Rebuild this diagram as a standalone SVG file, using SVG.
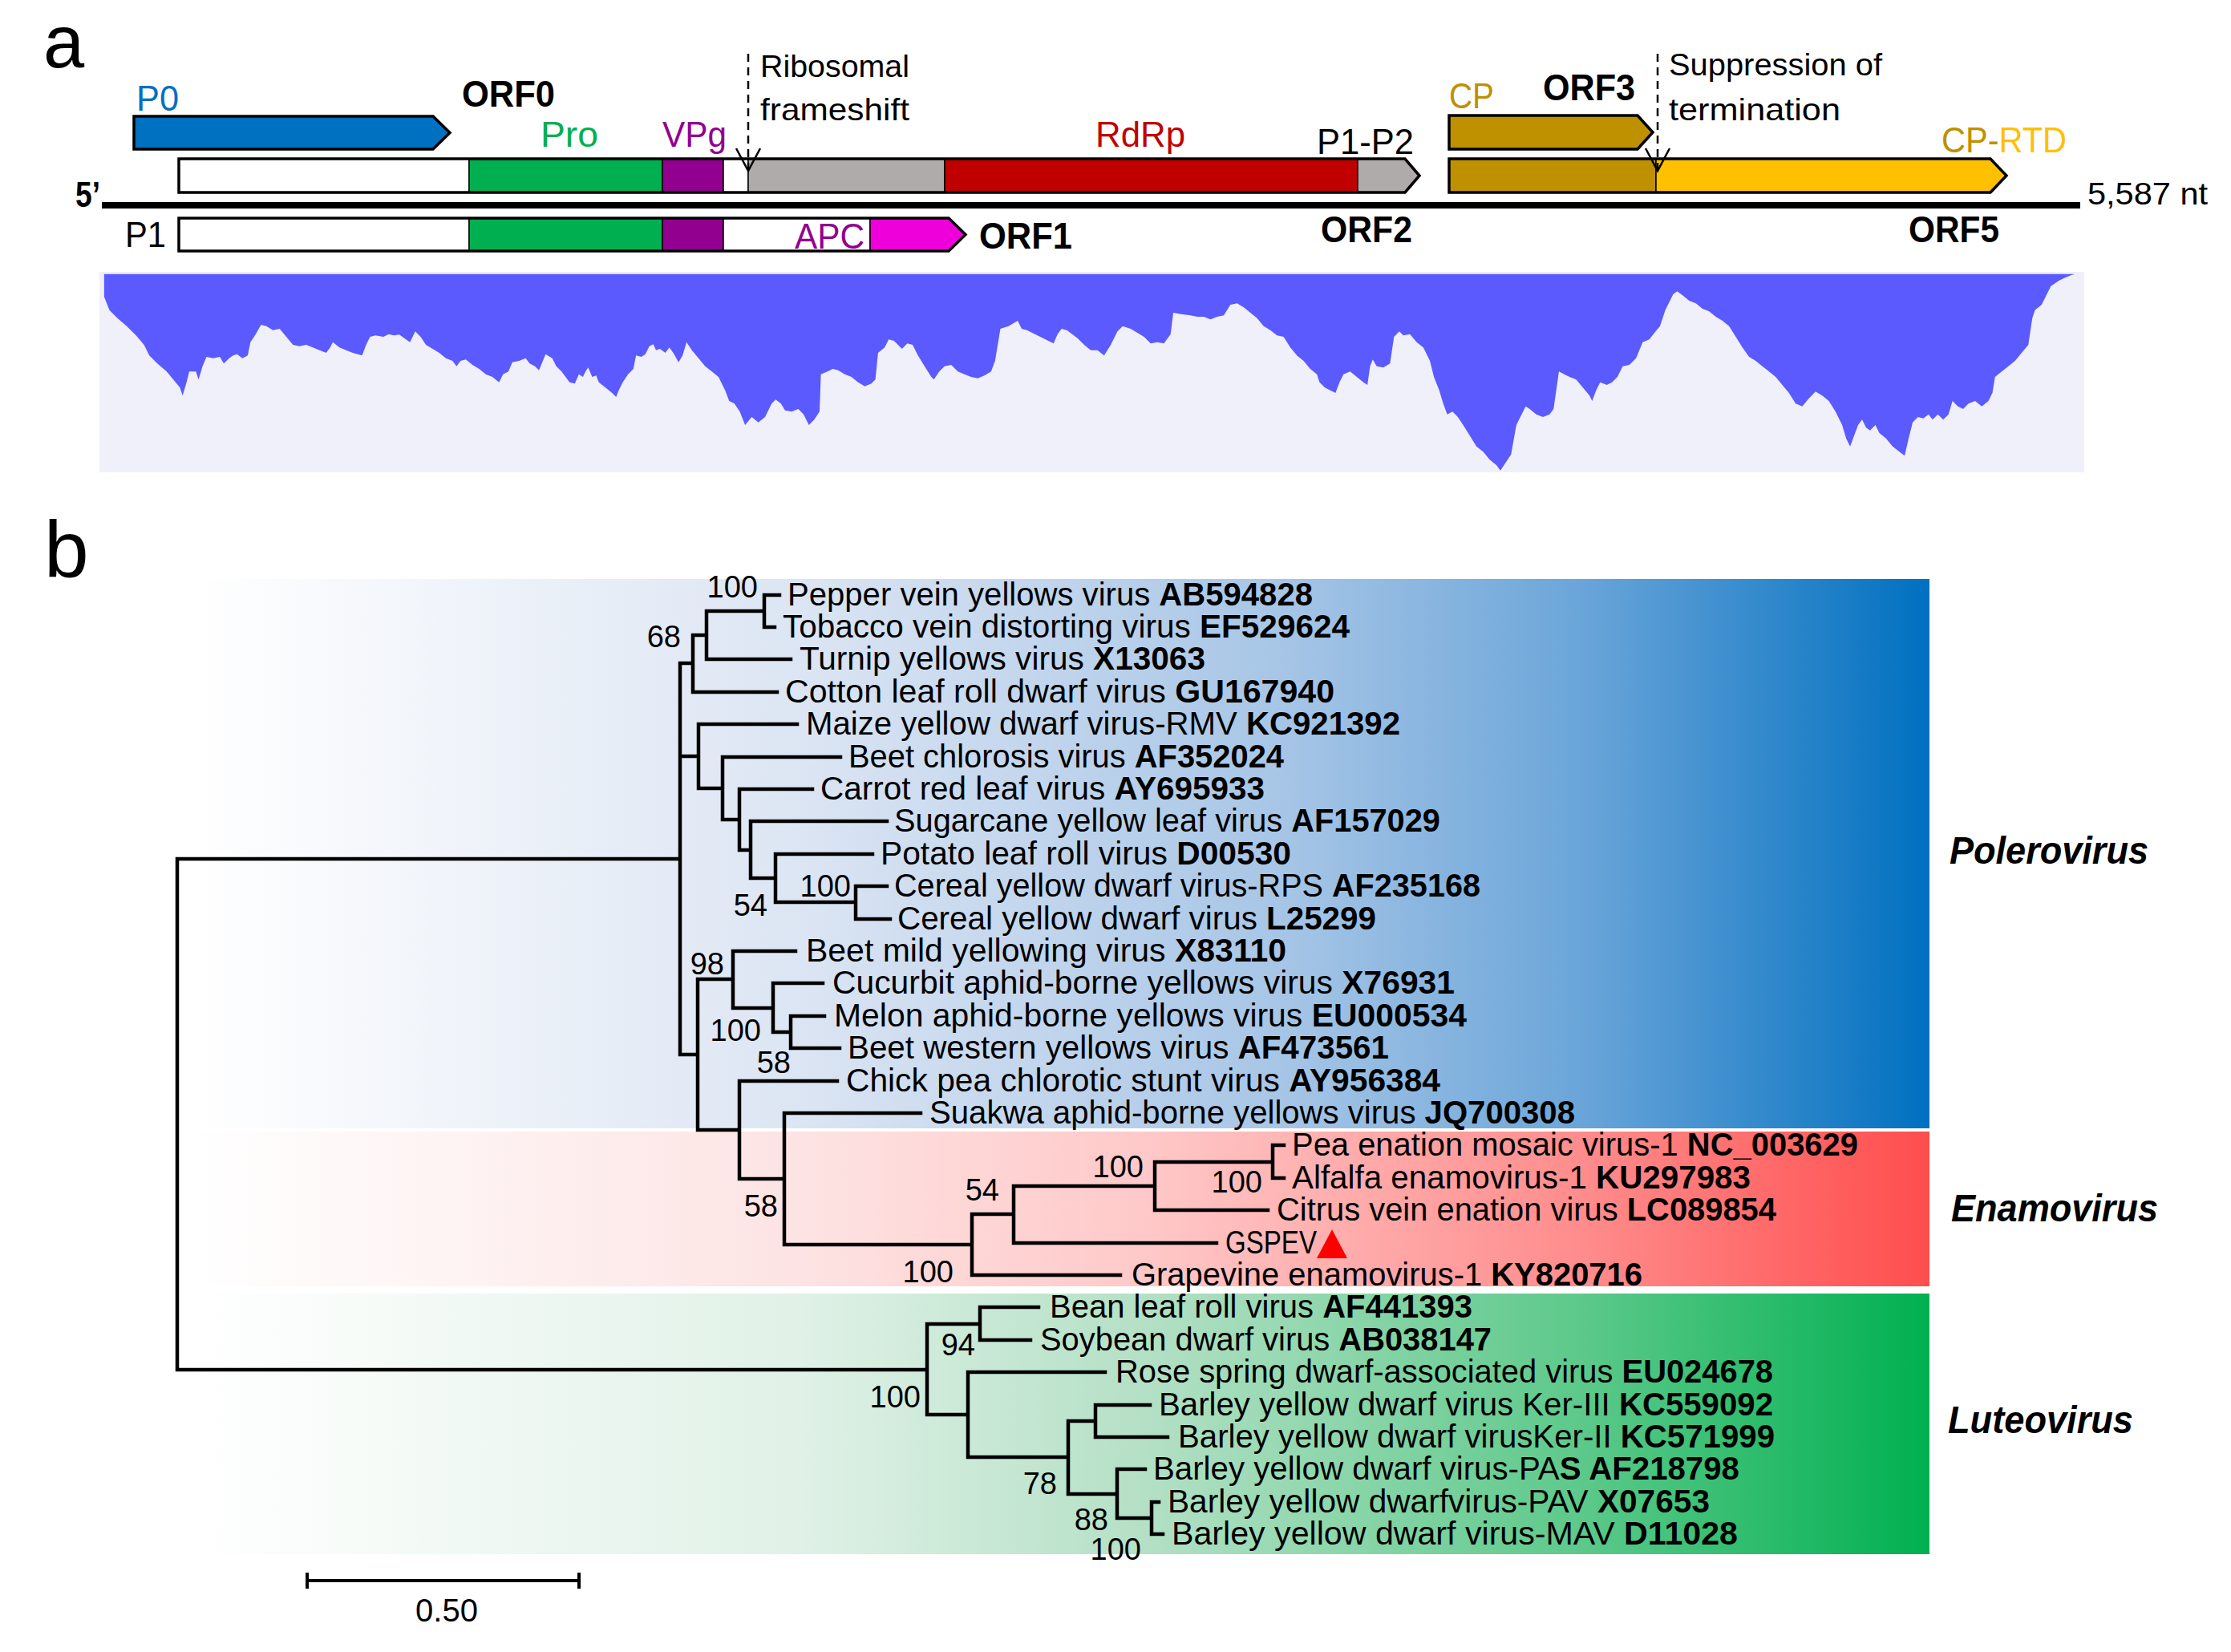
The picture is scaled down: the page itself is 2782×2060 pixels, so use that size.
<svg xmlns="http://www.w3.org/2000/svg" width="2782" height="2060" viewBox="0 0 2782 2060">
<defs>
<style>
text{font-family:"Liberation Sans",Arial,sans-serif;fill:#000}
.lf{font-size:40px}
.bs{font-size:38px;text-anchor:end}
.b{font-weight:bold}
.al{font-size:44px}
.orf{font-size:46px;font-weight:bold}
.nt{font-size:39px}
.cl{font-size:48px;font-weight:bold;font-style:italic}
.br{fill:none;stroke:#000;stroke-width:4.5;stroke-linecap:square}
.seg{stroke:#000;stroke-width:1.5}
.out{fill:none;stroke:#000;stroke-width:3.5;stroke-linejoin:miter}
.dash{fill:none;stroke:#000;stroke-width:2.5;stroke-dasharray:10 7}
.chev{fill:none;stroke:#000;stroke-width:2.5}
</style>
<linearGradient id="gBlue" x1="0" y1="0" x2="1" y2="0">
<stop offset="0" stop-color="#FFFFFF"/>
<stop offset="0.35" stop-color="#DCE5F3"/>
<stop offset="0.63" stop-color="#A6C5E6"/>
<stop offset="0.8" stop-color="#6AA5D9"/>
<stop offset="1" stop-color="#0070C0"/>
</linearGradient>
<linearGradient id="gRed" x1="0" y1="0" x2="1" y2="0">
<stop offset="0" stop-color="#FFFFFF"/>
<stop offset="0.35" stop-color="#FDE3E3"/>
<stop offset="0.55" stop-color="#FFC8C8"/>
<stop offset="0.8" stop-color="#FF8C8C"/>
<stop offset="1" stop-color="#FF4D4D"/>
</linearGradient>
<linearGradient id="gGreen" x1="0" y1="0" x2="1" y2="0">
<stop offset="0" stop-color="#FFFFFF"/>
<stop offset="0.35" stop-color="#E0F1E7"/>
<stop offset="0.55" stop-color="#B3E0C5"/>
<stop offset="0.8" stop-color="#5CC98A"/>
<stop offset="1" stop-color="#00B050"/>
</linearGradient>
</defs>
<rect width="2782" height="2060" fill="#FFFFFF"/>

<g id="panel-a">
<text x="54" y="84" style="font-size:92px">a</text>

<g id="P0">
<polygon points="167,145 540,145 561,165.5 540,186 167,186" class="out" style="fill:#0070C0"/>
<text x="170" y="138" class="al" style="fill:#0070C0" textLength="53" lengthAdjust="spacingAndGlyphs">P0</text>
<text x="576" y="133" class="orf" textLength="116" lengthAdjust="spacingAndGlyphs">ORF0</text>
</g>

<g id="ORF1-2">
<rect x="223" y="198" width="362" height="42" fill="#FFFFFF" class="seg"/>
<rect x="585" y="198" width="241" height="42" fill="#00B050" class="seg"/>
<rect x="826" y="198" width="76" height="42" fill="#92008F" class="seg"/>
<rect x="902" y="198" width="31" height="42" fill="#FFFFFF" class="seg"/>
<rect x="933" y="198" width="245" height="42" fill="#AFABAB" class="seg"/>
<rect x="1178" y="198" width="515" height="42" fill="#C00000" class="seg"/>
<polygon points="1693,198 1752,198 1770,219 1752,240 1693,240" fill="#AFABAB" class="seg"/>
<polygon points="223,198 1752,198 1770,219 1752,240 223,240" class="out"/>
<text x="674" y="183" class="al" style="fill:#00B050" textLength="72" lengthAdjust="spacingAndGlyphs">Pro</text>
<text x="826" y="183" class="al" style="fill:#92008F" textLength="80" lengthAdjust="spacingAndGlyphs">VPg</text>
<text x="1366" y="183" class="al" style="fill:#C00000" textLength="112" lengthAdjust="spacingAndGlyphs">RdRp</text>
<text x="1642" y="192" class="al" textLength="121" lengthAdjust="spacingAndGlyphs">P1-P2</text>
<text x="1647" y="302" class="orf" textLength="114" lengthAdjust="spacingAndGlyphs">ORF2</text>
</g>

<g id="ORF1">
<rect x="223" y="272" width="362" height="41" fill="#FFFFFF" class="seg"/>
<rect x="585" y="272" width="241" height="41" fill="#00B050" class="seg"/>
<rect x="826" y="272" width="76" height="41" fill="#92008F" class="seg"/>
<rect x="902" y="272" width="183" height="41" fill="#FFFFFF" class="seg"/>
<polygon points="1085,272 1183,272 1204,292.5 1183,313 1085,313" fill="#EE00DA" class="seg"/>
<polygon points="223,272 1183,272 1204,292.5 1183,313 223,313" class="out"/>
<text x="156" y="308" class="al" textLength="51" lengthAdjust="spacingAndGlyphs">P1</text>
<text x="991" y="310" class="al" style="fill:#92008F" textLength="87" lengthAdjust="spacingAndGlyphs">APC</text>
<text x="1221" y="310" class="orf" textLength="116" lengthAdjust="spacingAndGlyphs">ORF1</text>
</g>

<g id="ORF3">
<polygon points="1807,144 2042,144 2061,165 2042,186 1807,186" class="out" style="fill:#BF9000"/>
<text x="1807" y="135" class="al" style="fill:#BF9000" textLength="56" lengthAdjust="spacingAndGlyphs">CP</text>
<text x="1924" y="125" class="orf" textLength="115" lengthAdjust="spacingAndGlyphs">ORF3</text>
</g>

<g id="ORF5">
<rect x="1807" y="198" width="258" height="42" fill="#BF9000" class="seg"/>
<polygon points="2065,198 2482,198 2502,219 2482,240 2065,240" fill="#FFC000" class="seg"/>
<polygon points="1807,198 2482,198 2502,219 2482,240 1807,240" class="out"/>
<text x="2421" y="190" class="al" textLength="156" lengthAdjust="spacingAndGlyphs"><tspan style="fill:#BF9000">CP-</tspan><tspan style="fill:#FFC000">RTD</tspan></text>
<text x="2380" y="302" class="orf" textLength="113" lengthAdjust="spacingAndGlyphs">ORF5</text>
</g>

<g id="genome">
<line x1="127" y1="256" x2="2594" y2="256" stroke="#000" stroke-width="8"/>
<text x="94" y="258" class="al b" textLength="31" lengthAdjust="spacingAndGlyphs">5’</text>
<text x="2603" y="255" class="nt" textLength="150" lengthAdjust="spacingAndGlyphs">5,587 nt</text>
</g>

<g id="frameshift">
<line x1="933" y1="67" x2="933" y2="211" class="dash"/>
<polyline points="918,185 933,213 948,185" class="chev"/>
<text x="948" y="96" class="nt" textLength="186" lengthAdjust="spacingAndGlyphs">Ribosomal</text>
<text x="948" y="150" class="nt" textLength="186" lengthAdjust="spacingAndGlyphs">frameshift</text>
</g>

<g id="readthrough">
<line x1="2067" y1="67" x2="2067" y2="211" class="dash"/>
<polyline points="2052,185 2067,213 2082,185" class="chev"/>
<text x="2081" y="94" class="nt" textLength="266" lengthAdjust="spacingAndGlyphs">Suppression of</text>
<text x="2081" y="150" class="nt" textLength="214" lengthAdjust="spacingAndGlyphs">termination</text>
</g>

<g id="coverage">
<rect x="124" y="339" width="2475" height="250" fill="#F0F0FA"/>
<path transform="translate(100,330) scale(1.6582,0.33333)" fill="#5A5AFF" d="M18,35 L18,120 L22,170 L28,200 L35,230 L42,265 L48,300 L52,340 L58,370 L65,400 L70,430 L75,460 L77,490 L80,440 L82,400 L87,400 L89,430 L92,380 L95,345 L100,350 L105,345 L108,370 L112,350 L115,340 L118,335 L122,350 L126,340 L128,290 L132,260 L136,225 L140,230 L145,245 L150,240 L155,270 L160,300 L165,305 L170,300 L175,310 L180,320 L185,330 L188,310 L190,290 L195,310 L200,320 L205,330 L212,340 L215,300 L218,270 L222,265 L228,270 L232,260 L236,265 L240,262 L245,280 L248,290 L252,250 L256,270 L260,300 L265,315 L270,330 L275,350 L280,360 L283,380 L286,360 L290,355 L295,375 L300,390 L305,410 L310,420 L315,440 L318,410 L322,400 L325,365 L330,360 L335,350 L338,370 L342,380 L345,395 L350,335 L355,350 L358,380 L362,400 L365,420 L368,440 L372,445 L375,410 L378,420 L380,400 L382,385 L385,420 L388,415 L390,440 L395,460 L400,480 L403,495 L405,470 L408,440 L412,410 L416,390 L418,340 L422,345 L425,335 L428,305 L431,298 L433,320 L436,315 L440,330 L443,310 L446,330 L450,365 L453,340 L456,290 L460,320 L465,350 L470,380 L475,400 L480,420 L485,470 L488,510 L492,520 L496,550 L500,600 L505,570 L510,590 L515,570 L520,520 L523,505 L527,520 L530,545 L535,550 L540,540 L544,560 L548,600 L552,580 L556,550 L557,410 L562,400 L566,390 L570,395 L575,410 L580,420 L585,440 L590,455 L595,445 L598,430 L600,330 L605,310 L608,280 L612,285 L615,300 L618,315 L622,295 L626,300 L630,340 L635,380 L640,420 L642,430 L646,400 L650,380 L655,375 L660,400 L665,410 L670,420 L675,425 L680,415 L685,400 L688,360 L692,240 L698,230 L705,210 L708,240 L712,245 L718,260 L722,270 L728,285 L732,295 L735,260 L738,240 L742,245 L746,260 L750,275 L755,300 L760,320 L765,320 L770,340 L775,300 L780,250 L784,230 L790,240 L795,255 L800,270 L805,295 L810,290 L815,295 L820,260 L822,180 L828,185 L835,190 L840,195 L845,195 L850,205 L855,195 L860,190 L865,150 L870,145 L875,160 L880,180 L885,200 L890,230 L895,245 L900,265 L905,270 L910,310 L915,340 L920,360 L925,390 L930,410 L932,440 L936,460 L940,470 L944,480 L947,440 L950,410 L955,400 L960,420 L965,440 L968,450 L970,380 L972,355 L975,380 L980,385 L985,370 L988,270 L992,250 L995,265 L1000,260 L1005,290 L1010,310 L1015,360 L1018,420 L1022,470 L1025,520 L1028,560 L1032,550 L1036,570 L1040,600 L1045,640 L1050,680 L1055,700 L1060,730 L1065,750 L1068,770 L1072,740 L1076,710 L1080,600 L1083,570 L1087,530 L1090,540 L1095,560 L1100,570 L1105,560 L1108,540 L1112,400 L1116,410 L1120,420 L1125,430 L1130,460 L1135,490 L1137,510 L1140,470 L1143,440 L1148,450 L1152,440 L1156,420 L1160,380 L1165,375 L1170,350 L1175,290 L1180,280 L1183,260 L1188,230 L1192,170 L1195,140 L1198,110 L1201,100 L1205,115 L1210,135 L1215,145 L1220,165 L1225,175 L1230,195 L1235,210 L1240,230 L1245,270 L1250,310 L1255,345 L1260,360 L1265,380 L1270,400 L1275,420 L1280,450 L1285,480 L1290,520 L1295,530 L1300,500 L1305,475 L1310,490 L1315,510 L1320,550 L1325,600 L1328,650 L1331,680 L1334,640 L1337,600 L1340,580 L1343,610 L1346,620 L1350,600 L1353,630 L1358,650 L1363,680 L1368,700 L1372,715 L1375,650 L1378,590 L1382,570 L1386,575 L1390,560 L1393,580 L1397,560 L1401,580 L1405,560 L1408,510 L1412,530 L1416,540 L1420,520 L1425,510 L1430,530 L1435,510 L1438,480 L1440,420 L1445,400 L1450,380 L1455,360 L1460,330 L1465,300 L1468,200 L1470,170 L1475,150 L1478,120 L1482,80 L1488,60 L1492,50 L1497,40 L1500,35 Z"/>
</g>
</g>

<g id="panel-b">
<text x="55" y="720" style="font-size:100px">b</text>

<g id="bands">
<rect id="polerovirus-band" x="240" y="722" width="2166" height="685" fill="url(#gBlue)"/>
<rect id="enamovirus-band" x="240" y="1411" width="2166" height="193" fill="url(#gRed)"/>
<rect id="luteovirus-band" x="240" y="1613" width="2166" height="325" fill="url(#gGreen)"/>
</g>

<g id="clade-labels">
<text x="2431" y="1077" class="cl" textLength="248" lengthAdjust="spacingAndGlyphs">Polerovirus</text>
<text x="2433" y="1523" class="cl" textLength="258" lengthAdjust="spacingAndGlyphs">Enamovirus</text>
<text x="2429" y="1787" class="cl" textLength="231" lengthAdjust="spacingAndGlyphs">Luteovirus</text>
</g>

<g id="connectors">
<path class="br" d="M221,1071 V1708 M221,1071 H848 M221,1708 H1156
M848,827 V1315 M848,827 H864 M848,943 H871 M848,1315 H870
M864,792 V863 M864,792 H881 M864,863 H969
M881,762 V822 M881,762 H953 M881,822 H986
M953,742 V782 M953,742 H972 M953,782 H966
M871,903 V983 M871,903 H994 M871,983 H901
M901,944 V1022 M901,944 H1048 M901,1022 H922
M922,984 V1060 M922,984 H1013 M922,1060 H936
M936,1024 V1095 M936,1024 H1106 M936,1095 H967
M967,1065 V1125 M967,1065 H1088 M967,1125 H1067
M1067,1105 V1146 M1067,1105 H1106 M1067,1146 H1110
M870,1221 V1409 M870,1221 H914 M870,1409 H922
M914,1186 V1257 M914,1186 H992 M914,1257 H964
M964,1226 V1287 M964,1226 H1026 M964,1287 H986
M986,1267 V1307 M986,1267 H1028 M986,1307 H1047
M922,1348 V1470 M922,1348 H1044 M922,1470 H978
M978,1388 V1552 M978,1388 H1148 M978,1552 H1212
M1212,1514 V1590 M1212,1514 H1264 M1212,1590 H1397
M1264,1479 V1550 M1264,1479 H1440 M1264,1550 H1517
M1440,1449 V1509 M1440,1449 H1587 M1440,1509 H1581
M1587,1428 V1469 M1587,1428 H1601 M1587,1469 H1601
M1156,1651 V1764 M1156,1651 H1222 M1156,1764 H1207
M1222,1630 V1671 M1222,1630 H1295 M1222,1671 H1285
M1207,1711 V1817 M1207,1711 H1378 M1207,1817 H1332
M1332,1772 V1863 M1332,1772 H1366 M1332,1863 H1393
M1366,1752 V1792 M1366,1752 H1434 M1366,1792 H1456
M1393,1832 V1893 M1393,1832 H1428 M1393,1893 H1436
M1436,1873 V1913 M1436,1873 H1445 M1436,1913 H1450"/>
</g>

<g id="bootstrap">
<text x="945" y="745" class="bs">100</text>
<text x="849" y="807" class="bs">68</text>
<text x="1061" y="1118" class="bs">100</text>
<text x="957" y="1142" class="bs">54</text>
<text x="903" y="1215" class="bs">98</text>
<text x="949" y="1298" class="bs">100</text>
<text x="986" y="1338" class="bs">58</text>
<text x="970" y="1517" class="bs">58</text>
<text x="1426" y="1468" class="bs">100</text>
<text x="1246" y="1497" class="bs">54</text>
<text x="1574" y="1487" class="bs">100</text>
<text x="1189" y="1599" class="bs">100</text>
<text x="1216" y="1690" class="bs">94</text>
<text x="1148" y="1755" class="bs">100</text>
<text x="1318" y="1863" class="bs">78</text>
<text x="1382" y="1908" class="bs">88</text>
<text x="1423" y="1945" class="bs">100</text>
</g>

<g id="leaves">
<g id="leaf-01"><text x="982" y="755" class="lf" textLength="655" lengthAdjust="spacingAndGlyphs">Pepper vein yellows virus <tspan class="b">AB594828</tspan></text></g>
<g id="leaf-02"><text x="976" y="795" class="lf" textLength="707" lengthAdjust="spacingAndGlyphs">Tobacco vein distorting virus <tspan class="b">EF529624</tspan></text></g>
<g id="leaf-03"><text x="997" y="835" class="lf" textLength="506" lengthAdjust="spacingAndGlyphs">Turnip yellows virus <tspan class="b">X13063</tspan></text></g>
<g id="leaf-04"><text x="979" y="876" class="lf" textLength="685" lengthAdjust="spacingAndGlyphs">Cotton leaf roll dwarf virus <tspan class="b">GU167940</tspan></text></g>
<g id="leaf-05"><text x="1005" y="916" class="lf" textLength="741" lengthAdjust="spacingAndGlyphs">Maize yellow dwarf virus-RMV <tspan class="b">KC921392</tspan></text></g>
<g id="leaf-06"><text x="1058" y="957" class="lf" textLength="543" lengthAdjust="spacingAndGlyphs">Beet chlorosis virus <tspan class="b">AF352024</tspan></text></g>
<g id="leaf-07"><text x="1023" y="997" class="lf" textLength="554" lengthAdjust="spacingAndGlyphs">Carrot red leaf virus <tspan class="b">AY695933</tspan></text></g>
<g id="leaf-08"><text x="1115" y="1037" class="lf" textLength="681" lengthAdjust="spacingAndGlyphs">Sugarcane yellow leaf virus <tspan class="b">AF157029</tspan></text></g>
<g id="leaf-09"><text x="1098" y="1078" class="lf" textLength="512" lengthAdjust="spacingAndGlyphs">Potato leaf roll virus <tspan class="b">D00530</tspan></text></g>
<g id="leaf-10"><text x="1115" y="1118" class="lf" textLength="731" lengthAdjust="spacingAndGlyphs">Cereal yellow dwarf virus-RPS <tspan class="b">AF235168</tspan></text></g>
<g id="leaf-11"><text x="1119" y="1159" class="lf" textLength="597" lengthAdjust="spacingAndGlyphs">Cereal yellow dwarf virus <tspan class="b">L25299</tspan></text></g>
<g id="leaf-12"><text x="1005" y="1199" class="lf" textLength="599" lengthAdjust="spacingAndGlyphs">Beet mild yellowing virus <tspan class="b">X83110</tspan></text></g>
<g id="leaf-13"><text x="1038" y="1239" class="lf" textLength="776" lengthAdjust="spacingAndGlyphs">Cucurbit aphid-borne yellows virus <tspan class="b">X76931</tspan></text></g>
<g id="leaf-14"><text x="1040" y="1280" class="lf" textLength="789" lengthAdjust="spacingAndGlyphs">Melon aphid-borne yellows virus <tspan class="b">EU000534</tspan></text></g>
<g id="leaf-15"><text x="1057" y="1320" class="lf" textLength="675" lengthAdjust="spacingAndGlyphs">Beet western yellows virus <tspan class="b">AF473561</tspan></text></g>
<g id="leaf-16"><text x="1055" y="1361" class="lf" textLength="741" lengthAdjust="spacingAndGlyphs">Chick pea chlorotic stunt virus <tspan class="b">AY956384</tspan></text></g>
<g id="leaf-17"><text x="1159" y="1401" class="lf" textLength="805" lengthAdjust="spacingAndGlyphs">Suakwa aphid-borne yellows virus <tspan class="b">JQ700308</tspan></text></g>
<g id="leaf-18"><text x="1611" y="1441" class="lf" textLength="706" lengthAdjust="spacingAndGlyphs">Pea enation mosaic virus-1 <tspan class="b">NC_003629</tspan></text></g>
<g id="leaf-19"><text x="1611" y="1482" class="lf" textLength="572" lengthAdjust="spacingAndGlyphs">Alfalfa enamovirus-1 <tspan class="b">KU297983</tspan></text></g>
<g id="leaf-20"><text x="1592" y="1522" class="lf" textLength="623" lengthAdjust="spacingAndGlyphs">Citrus vein enation virus <tspan class="b">LC089854</tspan></text></g>
<g id="leaf-21"><text x="1528" y="1563" class="lf" textLength="114" lengthAdjust="spacingAndGlyphs">GSPEV</text>
<polygon points="1642,1569 1680,1569 1661,1533" fill="#FF0000"/></g>
<g id="leaf-22"><text x="1411" y="1603" class="lf" textLength="637" lengthAdjust="spacingAndGlyphs">Grapevine enamovirus-1 <tspan class="b">KY820716</tspan></text></g>
<g id="leaf-23"><text x="1309" y="1643" class="lf" textLength="527" lengthAdjust="spacingAndGlyphs">Bean leaf roll virus <tspan class="b">AF441393</tspan></text></g>
<g id="leaf-24"><text x="1297" y="1684" class="lf" textLength="563" lengthAdjust="spacingAndGlyphs">Soybean dwarf virus <tspan class="b">AB038147</tspan></text></g>
<g id="leaf-25"><text x="1391" y="1724" class="lf" textLength="820" lengthAdjust="spacingAndGlyphs">Rose spring dwarf-associated virus <tspan class="b">EU024678</tspan></text></g>
<g id="leaf-26"><text x="1445" y="1765" class="lf" textLength="766" lengthAdjust="spacingAndGlyphs">Barley yellow dwarf virus Ker-III <tspan class="b">KC559092</tspan></text></g>
<g id="leaf-27"><text x="1469" y="1805" class="lf" textLength="744" lengthAdjust="spacingAndGlyphs">Barley yellow dwarf virusKer-II <tspan class="b">KC571999</tspan></text></g>
<g id="leaf-28"><text x="1438" y="1845" class="lf" textLength="731" lengthAdjust="spacingAndGlyphs">Barley yellow dwarf virus-PA<tspan class="b">S AF218798</tspan></text></g>
<g id="leaf-29"><text x="1456" y="1886" class="lf" textLength="676" lengthAdjust="spacingAndGlyphs">Barley yellow dwarfvirus-PAV <tspan class="b">X07653</tspan></text></g>
<g id="leaf-30"><text x="1461" y="1926" class="lf" textLength="706" lengthAdjust="spacingAndGlyphs">Barley yellow dwarf virus-MAV <tspan class="b">D11028</tspan></text></g>
</g>

<g id="scale-bar">
<path d="M383,1971 H722 M383,1961 V1981 M722,1961 V1981" fill="none" stroke="#000" stroke-width="4"/>
<text x="557" y="2022" style="font-size:40px;text-anchor:middle">0.50</text>
</g>
</g>
</svg>
